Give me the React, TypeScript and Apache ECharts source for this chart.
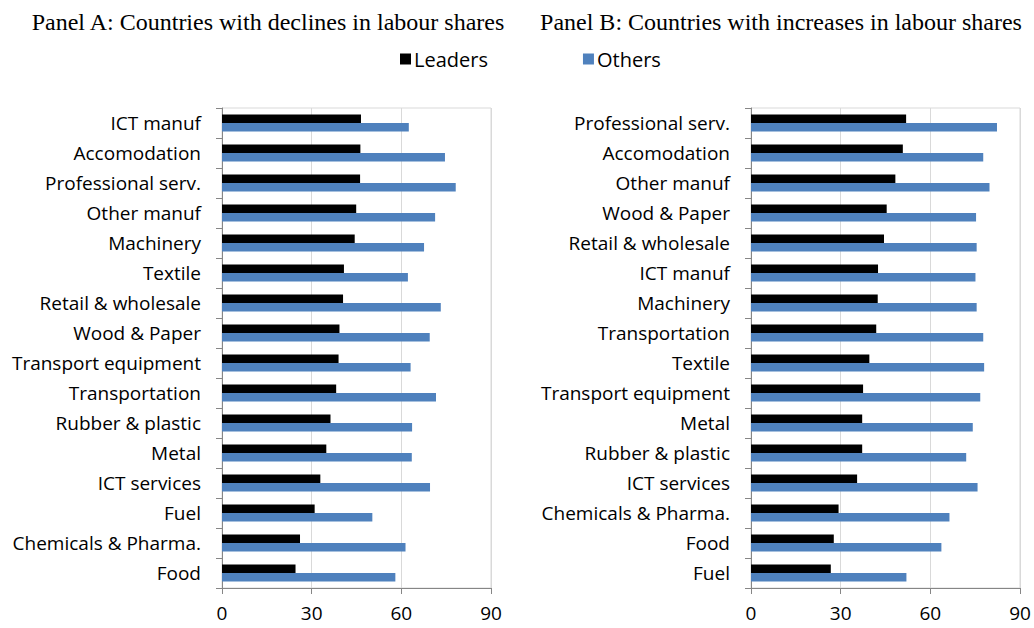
import React, { useEffect, useRef } from "react";
import * as echarts from "echarts";

const categoriesA = [
  "ICT manuf", "Accomodation", "Professional serv.", "Other manuf", "Machinery", "Textile",
  "Retail & wholesale", "Wood & Paper", "Transport equipment", "Transportation",
  "Rubber & plastic", "Metal", "ICT services", "Fuel", "Chemicals & Pharma.", "Food",
];
const leadersA = [46.5, 46.3, 46.2, 44.9, 44.4, 40.8, 40.5, 39.3, 39.0, 38.2, 36.3, 34.9, 32.9, 31.0, 26.1, 24.6];
const othersA = [62.5, 74.6, 78.2, 71.3, 67.6, 62.2, 73.2, 69.5, 63.1, 71.6, 63.6, 63.5, 69.6, 50.3, 61.4, 58.0];

const categoriesB = [
  "Professional serv.", "Accomodation", "Other manuf", "Wood & Paper", "Retail & wholesale",
  "ICT manuf", "Machinery", "Transportation", "Textile", "Transport equipment", "Metal",
  "Rubber & plastic", "ICT services", "Chemicals & Pharma.", "Food", "Fuel",
];
const leadersB = [51.9, 50.8, 48.3, 45.4, 44.5, 42.5, 42.4, 41.9, 39.6, 37.5, 37.2, 37.2, 35.5, 29.3, 27.7, 26.7];
const othersB = [82.3, 77.7, 79.8, 75.3, 75.5, 75.1, 75.5, 77.7, 78.0, 76.7, 74.2, 72.0, 75.8, 66.4, 63.7, 52.0];

const xTicks = [0, 30, 60, 90];
const titleA = "Panel A: Countries with declines in labour shares";
const titleB = "Panel B: Countries with increases in labour shares";
const seriesNames = ["Leaders", "Others"];

const BLUE = "#4F81BD";
const LABEL_FONT = "'Open Sans', 'Noto Sans', sans-serif";
const TITLE_FONT = "'Liberation Serif', 'DejaVu Serif', serif";

export default function App() {
  const ref = useRef<HTMLDivElement>(null);
  useEffect(() => {
    if (!ref.current) return;
    const chart = echarts.init(ref.current, undefined, { renderer: "svg" });
    const grids = [
      { left: 222, width: 269, top: 108, height: 480 },
      { left: 751, width: 269, top: 108, height: 480 },
    ];
    const xAxis = grids.map((_, i) => ({
      type: "value" as const,
      gridIndex: i,
      min: xTicks[0],
      max: xTicks[xTicks.length - 1],
      interval: 30,
      axisLine: { show: true, lineStyle: { color: "#868686", width: 1 } },
      axisTick: { show: true, length: 6, lineStyle: { color: "#868686" } },
      axisLabel: { fontSize: 19, color: "#000", margin: 15, fontFamily: LABEL_FONT },
      splitLine: { show: true, lineStyle: { color: "#D9D9D9", width: 1 } },
    }));
    const yAxis = [categoriesA, categoriesB].map((cats, i) => ({
      type: "category" as const,
      gridIndex: i,
      data: cats,
      inverse: true,
      axisLine: { show: true, lineStyle: { color: "#868686", width: 1 } },
      axisTick: { show: true, length: 6, inside: false, lineStyle: { color: "#868686" } },
      axisLabel: { fontSize: 19, color: "#000", margin: 21, fontFamily: LABEL_FONT },
    }));
    const mk = (name: string, data: number[], idx: number, color: string) => ({
      name,
      type: "bar" as const,
      xAxisIndex: idx,
      yAxisIndex: idx,
      data,
      barWidth: 8.5,
      barGap: "0%",
      itemStyle: { color },
    });
    const titleStyle = { fontFamily: TITLE_FONT, fontSize: 24, fontWeight: "normal" as const, color: "#000" };
    chart.setOption({
      animation: false,
      backgroundColor: "#fff",
      title: [
        { text: titleA, left: 263, top: 5, textAlign: "center", textStyle: titleStyle },
        { text: titleB, left: 776, top: 5, textAlign: "center", textStyle: titleStyle },
      ],
      legend: {
        data: seriesNames,
        left: 395,
        top: 44,
        itemWidth: 11,
        itemHeight: 11,
        icon: "rect",
        itemGap: 95,
        textStyle: { fontSize: 20, color: "#000", fontFamily: LABEL_FONT, padding: [0, 0, 0, -2] },
      },
      grid: grids.map((g) => ({ ...g, show: true, borderColor: "#D9D9D9", borderWidth: 1 })),
      xAxis,
      yAxis,
      series: [
        mk(seriesNames[0], leadersA, 0, "#000"),
        mk(seriesNames[1], othersA, 0, BLUE),
        mk(seriesNames[0], leadersB, 1, "#000"),
        mk(seriesNames[1], othersB, 1, BLUE),
      ],
    });
    return () => chart.dispose();
  }, []);
  return <div ref={ref} style={{ position: "fixed", left: 0, top: 0, width: 1034, height: 628 }} />;
}
